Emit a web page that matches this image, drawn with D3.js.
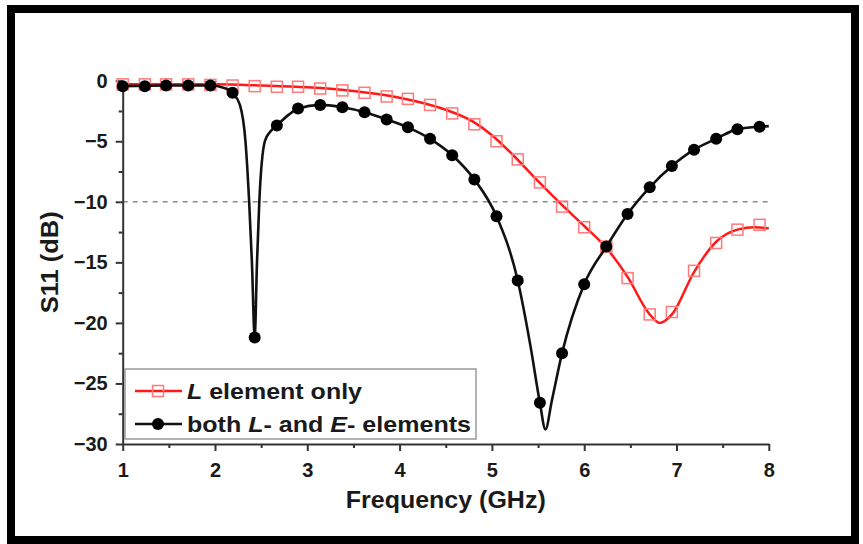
<!DOCTYPE html>
<html>
<head>
<meta charset="utf-8">
<script src="https://cdn.jsdelivr.net/npm/d3@7"></script>
<style>
  body { margin: 0; background: #fff; }
  svg { display: block; font-family: "Liberation Sans", Arial, sans-serif; }
</style>
</head>
<body>
<svg id="chart"></svg>
<script>
const width = 863;
const height = 544;

// x ticks / y ticks
const xTicks = [1, 2, 3, 4, 5, 6, 7, 8];
const xMinorTicks = [1.5, 2.5, 3.5, 4.5, 5.5, 6.5, 7.5];
const yTicks = [0, -5, -10, -15, -20, -25, -30];
const yMinorTicks = [-2.5, -7.5, -12.5, -17.5, -22.5, -27.5];

// frequencies where the markers sit (GHz)
const markerFreq = [1.0, 1.24, 1.47, 1.71, 1.95, 2.19, 2.43, 2.67, 2.90, 3.14,
    3.38, 3.62, 3.86, 4.09, 4.33, 4.57, 4.81, 5.05, 5.28, 5.52,
    5.76, 6.0, 6.24, 6.47, 6.71, 6.95, 7.19, 7.43, 7.66, 7.90];

// S11 at the markers (dB)
const redMarkerDb = [-0.3, -0.3, -0.3, -0.3, -0.35, -0.4, -0.45, -0.5, -0.5, -0.65,
    -0.8, -1.0, -1.3, -1.5, -2.0, -2.7, -3.6, -5.0, -6.5, -8.4,
    -10.4, -12.1, -13.7, -16.3, -19.3, -19.1, -15.7, -13.4, -12.3, -11.9];
const blackMarkerDb = [-0.45, -0.45, -0.4, -0.4, -0.4, -1.0, -21.2, -3.7, -2.3, -2.0,
    -2.2, -2.6, -3.2, -3.85, -4.8, -6.15, -8.15, -11.2, -16.5, -26.6,
    -22.5, -16.8, -13.7, -11.0, -8.8, -7.05, -5.7, -4.8, -4.0, -3.8];

// continuous curves
const redCurveFreq = [1.0, 2.0, 2.5, 3.0, 3.5, 4.0, 4.5, 4.8, 5.0, 5.25, 5.5, 5.75,
    6.0, 6.25, 6.47, 6.7, 6.82, 6.95, 7.19, 7.43, 7.66, 7.85, 8.0];
const redCurveDb = [-0.3, -0.3, -0.4, -0.55, -0.85, -1.4, -2.4, -3.4, -4.5, -6.3, -8.3, -10.2,
    -12.0, -13.9, -16.2, -19.2, -20.0, -19.3, -15.8, -13.3, -12.3, -12.1, -12.2];

const blackCurveFreq = [1.0, 1.5, 1.95, 2.1, 2.19, 2.27, 2.33, 2.37, 2.40, 2.43, 2.455, 2.48,
    2.54, 2.6, 2.67, 2.8, 2.9, 3.14, 3.38, 3.62, 3.86, 4.09, 4.33, 4.57, 4.81, 5.05,
    5.28, 5.42, 5.52, 5.58, 5.65, 5.76, 6.0, 6.24, 6.47, 6.71, 6.95, 7.19, 7.43, 7.66, 7.90, 8.0];
const blackCurveDb = [-0.45, -0.4, -0.4, -0.6, -1.0, -2.0, -5.0, -10.0, -15.0, -21.2, -15.0, -10.0,
    -5.0, -4.2, -3.7, -2.8, -2.3, -2.0, -2.2, -2.6, -3.2, -3.85, -4.8, -6.15, -8.15, -11.2,
    -16.5, -22.0, -26.6, -28.8, -26.4, -22.5, -16.8, -13.7, -11.0, -8.8, -7.05, -5.7, -4.8, -4.0, -3.8, -3.75];

const redColor = "#ff1a1a";
const markerRed = "#ff7a7a";

const svg = d3.select("#chart")
    .attr("width", width)
    .attr("height", height);

const x = d3.scaleLinear().domain([1, 8]).range([122.7, 768.8]);
const y = d3.scaleLinear().domain([0, -30]).range([80.7, 444]);

// black frame round the whole figure
svg.append("rect")
    .attr("x", 11)
    .attr("y", 9)
    .attr("width", 844)
    .attr("height", 531)
    .attr("fill", "none")
    .attr("stroke", "#000")
    .attr("stroke-width", 8);

// -10 dB reference line
svg.append("line")
    .attr("x1", x(1))
    .attr("x2", x(8))
    .attr("y1", y(-10))
    .attr("y2", y(-10))
    .attr("stroke", "#8a8a8a")
    .attr("stroke-width", 1.5)
    .attr("stroke-dasharray", "5,5");

function styleAxis(g) {
    g.selectAll(".domain").attr("stroke", "#333").attr("stroke-width", 2);
    g.selectAll(".tick line").attr("stroke", "#333").attr("stroke-width", 2);
    g.selectAll(".tick text")
        .attr("fill", "#1a1a1a")
        .style("font-size", "20px")
        .style("font-weight", "bold");
}

// axes
const xAxis = svg.append("g")
    .attr("transform", `translate(0,${y(-30)})`)
    .call(d3.axisBottom(x).tickValues(xTicks).tickSize(7).tickSizeOuter(0).tickPadding(12).tickFormat(d3.format("d")));
styleAxis(xAxis);
svg.append("g")
    .attr("transform", `translate(0,${y(-30)})`)
    .call(d3.axisBottom(x).tickValues(xMinorTicks).tickSize(4).tickFormat(""))
    .call(g => g.select(".domain").remove())
    .call(styleAxis);

const yAxis = svg.append("g")
    .attr("transform", `translate(${x(1)},0)`)
    .call(d3.axisLeft(y).tickValues(yTicks).tickSize(7).tickSizeOuter(0).tickPadding(8).tickFormat(d3.format("d")));
styleAxis(yAxis);
svg.append("g")
    .attr("transform", `translate(${x(1)},0)`)
    .call(d3.axisLeft(y).tickValues(yMinorTicks).tickSize(4).tickFormat(""))
    .call(g => g.select(".domain").remove())
    .call(styleAxis);

// axis titles
svg.append("text")
    .attr("x", (x(1) + x(8)) / 2)
    .attr("y", 508)
    .attr("text-anchor", "middle")
    .attr("fill", "#1a1a1a")
    .style("font-size", "23px")
    .style("font-weight", "bold")
    .attr("textLength", 200)
    .attr("lengthAdjust", "spacingAndGlyphs")
    .text("Frequency (GHz)");

svg.append("text")
    .attr("transform", `translate(58,${y(-15)}) rotate(-90)`)
    .attr("text-anchor", "middle")
    .attr("fill", "#1a1a1a")
    .style("font-size", "23px")
    .style("font-weight", "bold")
    .attr("textLength", 102)
    .attr("lengthAdjust", "spacingAndGlyphs")
    .text("S11 (dB)");

// curves
const line = d3.line()
    .x(d => x(d[0]))
    .y(d => y(d[1]))
    .curve(d3.curveMonotoneX);

const redCurve = redCurveFreq.map((f, i) => [f, redCurveDb[i]]);
const blackCurve = blackCurveFreq.map((f, i) => [f, blackCurveDb[i]]);
const redMarkers = markerFreq.map((f, i) => [f, redMarkerDb[i]]);
const blackMarkers = markerFreq.map((f, i) => [f, blackMarkerDb[i]]);

svg.append("path")
    .datum(redCurve)
    .attr("d", line)
    .attr("fill", "none")
    .attr("stroke", redColor)
    .attr("stroke-width", 2.5);

svg.append("g")
    .selectAll("rect")
    .data(redMarkers)
    .join("rect")
    .attr("x", d => x(d[0]) - 5.5)
    .attr("y", d => y(d[1]) - 5.5)
    .attr("width", 11)
    .attr("height", 11)
    .attr("fill", "none")
    .attr("stroke", markerRed)
    .attr("stroke-width", 1.5);

svg.append("path")
    .datum(blackCurve)
    .attr("d", line)
    .attr("fill", "none")
    .attr("stroke", "#111")
    .attr("stroke-width", 2.6);

svg.append("g")
    .selectAll("circle")
    .data(blackMarkers)
    .join("circle")
    .attr("cx", d => x(d[0]))
    .attr("cy", d => y(d[1]))
    .attr("r", 6)
    .attr("fill", "#000");

// legend
const legend = svg.append("g");
legend.append("rect")
    .attr("x", 125)
    .attr("y", 369)
    .attr("width", 351)
    .attr("height", 70)
    .attr("fill", "#fff")
    .attr("stroke", "#999")
    .attr("stroke-width", 1.5);

legend.append("line")
    .attr("x1", 135).attr("x2", 182)
    .attr("y1", 391).attr("y2", 391)
    .attr("stroke", redColor)
    .attr("stroke-width", 2.5);
legend.append("rect")
    .attr("x", 152.5).attr("y", 385.5)
    .attr("width", 11).attr("height", 11)
    .attr("fill", "none")
    .attr("stroke", markerRed)
    .attr("stroke-width", 1.5);

legend.append("line")
    .attr("x1", 135).attr("x2", 182)
    .attr("y1", 424).attr("y2", 424)
    .attr("stroke", "#111")
    .attr("stroke-width", 2.5);
legend.append("circle")
    .attr("cx", 158).attr("cy", 424)
    .attr("r", 6)
    .attr("fill", "#000");

const t1 = legend.append("text")
    .attr("x", 187)
    .attr("y", 399)
    .attr("fill", "#1a1a1a")
    .style("font-size", "22px")
    .style("font-weight", "bold")
    .attr("textLength", 175)
    .attr("lengthAdjust", "spacingAndGlyphs");
t1.append("tspan").style("font-style", "italic").text("L");
t1.append("tspan").text(" element only");

const t2 = legend.append("text")
    .attr("x", 187)
    .attr("y", 432)
    .attr("fill", "#1a1a1a")
    .style("font-size", "22px")
    .style("font-weight", "bold")
    .attr("textLength", 284)
    .attr("lengthAdjust", "spacingAndGlyphs");
t2.append("tspan").text("both ");
t2.append("tspan").style("font-style", "italic").text("L");
t2.append("tspan").text("- and ");
t2.append("tspan").style("font-style", "italic").text("E");
t2.append("tspan").text("- elements");
</script>
</body>
</html>
